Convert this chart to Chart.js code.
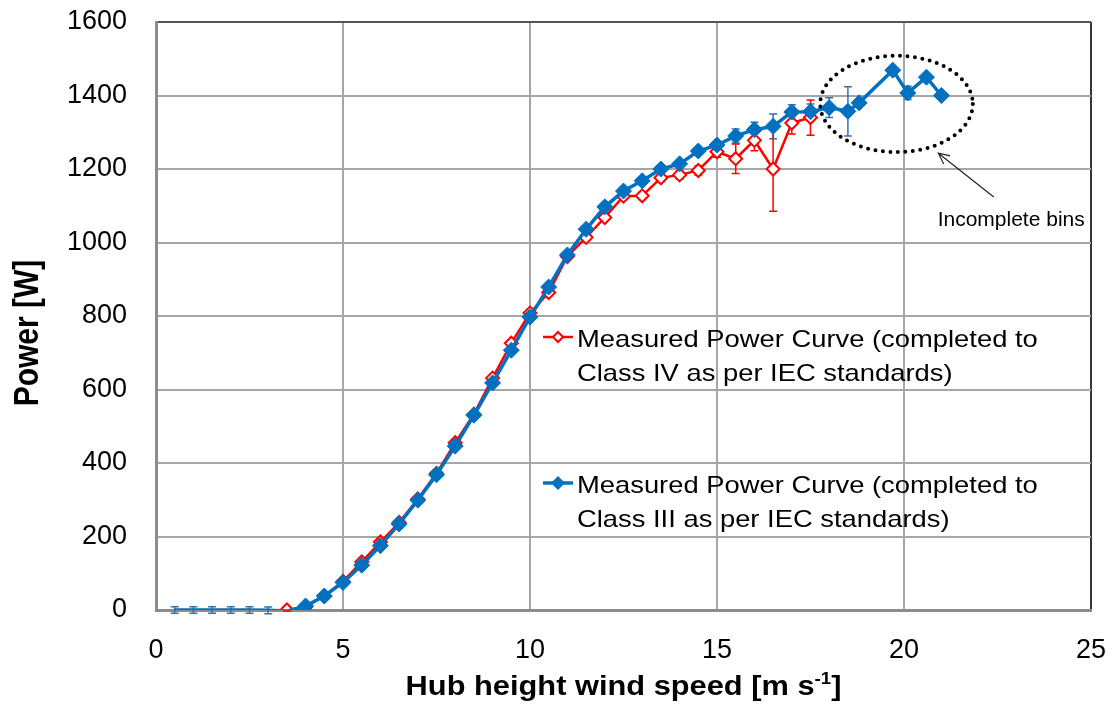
<!DOCTYPE html>
<html>
<head>
<meta charset="utf-8">
<script src="https://cdn.jsdelivr.net/npm/chart.js@4.4.1/dist/chart.umd.min.js"></script>
<style>
  html,body{margin:0;background:#fff}
  #wrap{width:1113px;height:709px;position:relative}
</style>
</head>
<body>
<div id="wrap"><canvas id="chart"></canvas></div>
<script>
/* ── Data ── */
const blueSpeed=[0.5,1,1.5,2,2.5,3,3.5,4,4.5,5,5.5,6,6.5,7,7.5,8,8.5,9,9.5,10,10.5,11,11.5,12,12.5,13,13.5,14,14.5,15,15.5,16,16.5,17,17.5,18,18.5,18.8,19.7,20.1,20.6,21];
const bluePower=[0,0,0,0,0,-1,-3,11,38,75,122,175,234,299,368,446,530,618,707,797,879,966,1036,1097,1140,1168,1200,1214,1249,1265,1290,1307,1316,1355,1356,1367,1357,1380,1469,1407,1450,1400];
const blueErr=[9,9,9,9,9,9,0,3,3,4,4,4,4,4,4,4,5,5,5,5,6,6,7,7,8,8,8,8,8,8,19,20,34,20,21,27,67,0,0,18,0,0];
const blueMarker=[0,0,0,0,0,0,0,8,8,8,8,8,8,8,8,8,8,8,8,8,8,8,8,8,8,8,8,8,8,8,8,8,8,8,8,8,8,8,8,8,8,8];

const redSpeed=[3.5,4,4.5,5,5.5,6,6.5,7,7.5,8,8.5,9,9.5,10,10.5,11,11.5,12,12.5,13,13.5,14,14.5,15,15.5,16,16.5,17,17.5];
const redPower=[0,8,38,78,131,185,238,302,372,455,533,631,726,808,864,962,1014,1068,1126,1127,1176,1184,1196,1247,1228,1278,1200,1325,1340];
const redErr=[3,3,3,4,4,4,4,5,5,5,5,6,6,6,6,7,8,8,9,10,10,11,12,15,40,28,115,30,48];

const legendText=[
  ['Measured Power Curve (completed to','Class IV as per IEC standards)'],
  ['Measured Power Curve (completed to','Class III as per IEC standards)']
];
const noteText='Incomplete bins';

/* ellipse + arrow in data units */
const noteEllipse={x:19.8,y:1377,rx:2.04,ry:131};
const noteArrow={fromX:22.4,fromY:1124,toX:20.92,toY:1243};
const noteLabel={x:20.9,y:1061};

const FONT='"Liberation Sans", Arial, sans-serif';
const BLUE='#0070C0', RED='#FF0000';

const pts=(xs,ys)=>xs.map((x,i)=>({x,y:ys[i]}));

/* ── Error bars ── */
const errorBars={
  id:'errorBars',
  beforeDatasetsDraw(chart){
    const ctx=chart.ctx, ys=chart.scales.y;
    chart.data.datasets.forEach((ds,i)=>{
      const meta=chart.getDatasetMeta(i);
      ctx.save();
      ctx.strokeStyle=ds.errColor;ctx.lineWidth=1.5;
      ds.err.forEach((e,j)=>{
        if(!e)return;
        const p=meta.data[j], v=ds.data[j].y;
        const t=ys.getPixelForValue(v+e), b=ys.getPixelForValue(v-e);
        ctx.beginPath();
        ctx.moveTo(p.x,t);ctx.lineTo(p.x,b);
        ctx.moveTo(p.x-4,t);ctx.lineTo(p.x+4,t);
        ctx.moveTo(p.x-4,b);ctx.lineTo(p.x+4,b);
        ctx.stroke();
      });
      ctx.restore();
    });
  }
};

/* ── Titles, legend, annotation ── */
function diamond(ctx,x,y,r,fill,stroke,lw){
  ctx.beginPath();
  ctx.moveTo(x,y-r);ctx.lineTo(x+r,y);ctx.lineTo(x,y+r);ctx.lineTo(x-r,y);ctx.closePath();
  ctx.fillStyle=fill;ctx.fill();
  if(stroke){ctx.strokeStyle=stroke;ctx.lineWidth=lw;ctx.stroke();}
}

const decorations={
  id:'decorations',
  afterDraw(chart){
    const ctx=chart.ctx, xs=chart.scales.x, ys=chart.scales.y, a=chart.chartArea;
    ctx.save();
    ctx.fillStyle='#000';

    /* x title with superscript */
    const parts=[
      {t:'Hub height wind speed [m s',f:'bold 28px '+FONT,dy:0},
      {t:'-1',f:'bold 17px '+FONT,dy:-11},
      {t:']',f:'bold 28px '+FONT,dy:0}
    ];
    let total=0;
    parts.forEach(p=>{ctx.font=p.f;p.w=ctx.measureText(p.t).width;total+=p.w;});
    ctx.save();
    ctx.translate((a.left+a.right)/2,695);
    ctx.scale(1.1,1);
    ctx.textBaseline='alphabetic';ctx.textAlign='left';
    let cx=-total/2;
    parts.forEach(p=>{ctx.font=p.f;ctx.fillText(p.t,cx,p.dy);cx+=p.w;});
    ctx.restore();

    /* y title */
    ctx.save();
    ctx.translate(29,333);
    ctx.scale(1.14,1);
    ctx.rotate(-Math.PI/2);
    ctx.font='bold 30px '+FONT;ctx.textAlign='center';ctx.textBaseline='middle';
    ctx.fillText('Power [W]',0,0);
    ctx.restore();

    /* legend */
    const rows=[{y:337,color:RED,hollow:true},{y:483,color:BLUE,hollow:false}];
    rows.forEach((r,i)=>{
      ctx.strokeStyle=r.color;ctx.lineWidth=r.hollow?2.5:3.5;
      ctx.beginPath();ctx.moveTo(543,r.y);ctx.lineTo(573,r.y);ctx.stroke();
      if(r.hollow)diamond(ctx,558,r.y,5,'#fff',RED,2);
      else diamond(ctx,558,r.y,7,BLUE);
      ctx.save();
      ctx.translate(577,r.y);
      ctx.scale(1.14,1);
      ctx.fillStyle='#000';ctx.font='24px '+FONT;ctx.textAlign='left';ctx.textBaseline='alphabetic';
      ctx.fillText(legendText[i][0],0,10);
      ctx.fillText(legendText[i][1],0,44);
      ctx.restore();
    });

    /* dotted ellipse */
    const ex=xs.getPixelForValue(noteEllipse.x), ey=ys.getPixelForValue(noteEllipse.y);
    const erx=xs.getPixelForValue(noteEllipse.x+noteEllipse.rx)-ex;
    const ery=ey-ys.getPixelForValue(noteEllipse.y+noteEllipse.ry);
    ctx.save();
    ctx.strokeStyle='#000';ctx.lineWidth=4;ctx.lineCap='round';ctx.setLineDash([0,7.5]);
    ctx.beginPath();ctx.ellipse(ex,ey,erx,ery,0,0,Math.PI*2);ctx.stroke();
    ctx.restore();

    /* arrow */
    const fx=xs.getPixelForValue(noteArrow.fromX), fy=ys.getPixelForValue(noteArrow.fromY);
    const tx=xs.getPixelForValue(noteArrow.toX), ty=ys.getPixelForValue(noteArrow.toY);
    const ang=Math.atan2(ty-fy,tx-fx);
    ctx.strokeStyle='#222';ctx.lineWidth=1.2;
    ctx.beginPath();ctx.moveTo(fx,fy);ctx.lineTo(tx,ty);
    ctx.moveTo(tx-12*Math.cos(ang-0.45),ty-12*Math.sin(ang-0.45));ctx.lineTo(tx,ty);
    ctx.lineTo(tx-12*Math.cos(ang+0.45),ty-12*Math.sin(ang+0.45));
    ctx.stroke();

    /* note */
    ctx.font='21px '+FONT;ctx.textAlign='left';ctx.textBaseline='middle';ctx.fillStyle='#000';
    ctx.fillText(noteText,xs.getPixelForValue(noteLabel.x),ys.getPixelForValue(noteLabel.y));
    ctx.restore();
  }
};

/* ── Chart ── */
new Chart(document.getElementById('chart'),{
  type:'scatter',
  data:{
    datasets:[
      {
        label:legendText[1].join(' '),
        data:pts(blueSpeed,bluePower),
        err:blueErr,errColor:'#2E75B6',
        showLine:true,borderColor:BLUE,borderWidth:3.5,tension:0,
        pointStyle:'rectRot',pointRadius:blueMarker,pointBackgroundColor:BLUE,pointBorderColor:BLUE,pointBorderWidth:1
      },
      {
        label:legendText[0].join(' '),
        data:pts(redSpeed,redPower),
        err:redErr,errColor:RED,
        showLine:true,borderColor:RED,borderWidth:2.5,tension:0,
        pointStyle:'rectRot',pointRadius:6.5,pointBackgroundColor:'#fff',pointBorderColor:RED,pointBorderWidth:2
      }
    ]
  },
  options:{
    responsive:true,maintainAspectRatio:false,animation:false,
    layout:{padding:{top:22,right:22,left:0,bottom:0}},
    plugins:{legend:{display:false},tooltip:{enabled:false}},
    scales:{
      x:{
        type:'linear',min:0,max:25,
        ticks:{stepSize:5,color:'#000',font:{family:FONT,size:27},padding:24,callback:v=>String(v)},
        grid:{color:c=>c.tick&&c.tick.value===25?'#333':'#a6a6a6',lineWidth:2,drawTicks:false},
        border:{display:true,color:'#8c8c8c',width:3},
        afterFit:s=>{s.height=99;s.paddingLeft=0;s.paddingRight=0;}
      },
      y:{
        min:0,max:1600,
        ticks:{stepSize:200,color:'#000',font:{family:FONT,size:27},padding:29,callback:v=>String(v)},
        grid:{color:c=>c.tick&&c.tick.value===1600?'#555':'#a6a6a6',lineWidth:2,drawTicks:false},
        border:{display:true,color:'#8c8c8c',width:3},
        afterFit:s=>{s.width=156;s.paddingTop=0;s.paddingBottom=0;}
      }
    }
  },
  plugins:[errorBars,decorations]
});
</script>
</body>
</html>
